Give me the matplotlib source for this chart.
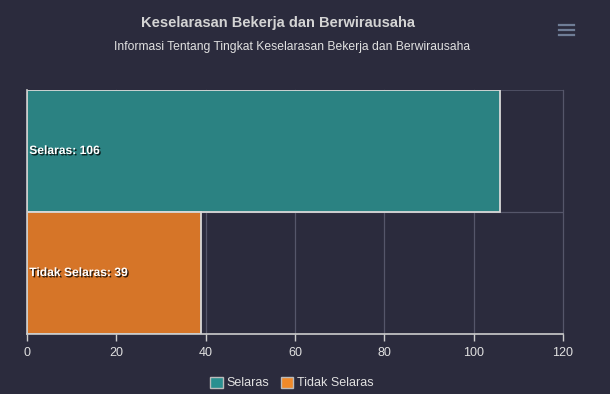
import matplotlib.pyplot as plt
import matplotlib.patheffects as pe
from matplotlib.patches import Patch
from matplotlib.lines import Line2D

# data
categories = ['Selaras', 'Tidak Selaras']
values = [106, 39]
bar_colors = ['#2b8282', '#d67528']
legend_colors = ['#2a9090', '#f08a2a']
x_ticks = [0, 20, 40, 60, 80, 100, 120]

bg = '#2b2b3d'
txt = '#e0e0e0'

fig = plt.figure(figsize=(6.1, 3.94), dpi=100, facecolor=bg)
ax = fig.add_axes([27 / 610, 1 - 334 / 394, (563 - 27) / 610, (334 - 90) / 394])
ax.set_facecolor(bg)

pos = list(range(len(categories)))
ax.barh(pos, values, height=1.0, color=bar_colors, edgecolor='#d8d8d8', linewidth=1.3, zorder=2)

ax.set_xlim(0, 120)
ax.set_ylim(1.5, -0.5)
ax.set_xticks(x_ticks)
ax.set_xticklabels([str(t) for t in x_ticks], color=txt, fontsize=9, family='Liberation Sans')
ax.set_yticks([])

# grid
for t in x_ticks[1:]:
    ax.axvline(t, color='#55566a', linewidth=0.9, zorder=1, clip_on=False)
ax.axhline(0.5, color='#55566a', linewidth=0.9, zorder=1)
ax.axhline(-0.5, color='#55566a', linewidth=1.2, zorder=1)

for s in ['top', 'right']:
    ax.spines[s].set_visible(False)
ax.spines['left'].set_color('#cccccc')
ax.spines['bottom'].set_color('#cccccc')
ax.spines['left'].set_linewidth(1.2)
ax.spines['bottom'].set_linewidth(1.2)
ax.tick_params(axis='x', colors='#cccccc', length=5, width=1, labelcolor=txt, pad=4)

# bar labels
for i, (c, v) in enumerate(zip(categories, values)):
    ax.text(0.5, i, f'{c}: {v}', color='white', fontsize=8.7, fontweight='bold',
            va='center', ha='left', family='Liberation Sans', zorder=3,
            path_effects=[pe.withSimplePatchShadow(offset=(1, -1), shadow_rgbFace='black', alpha=0.8)])

# titles
fig.text(278 / 610, 1 - 23 / 394, 'Keselarasan Bekerja dan Berwirausaha', ha='center', va='center',
         color='#d4d4d4', fontsize=10.5, fontweight='bold', family='Liberation Sans')
fig.text(292 / 610, 1 - 47 / 394, 'Informasi Tentang Tingkat Keselarasan Bekerja dan Berwirausaha',
         ha='center', va='center', color=txt, fontsize=8.7, family='Liberation Sans')

# menu icon
for yy in [25, 30, 35]:
    fig.add_artist(Line2D([559 / 610, 574 / 610], [1 - yy / 394, 1 - yy / 394],
                          color='#6f7d96', linewidth=1.6, transform=fig.transFigure))

# legend
handles = [Patch(facecolor=legend_colors[i], edgecolor='#bbbbbb', label=categories[i]) for i in range(2)]
leg = fig.legend(handles=handles, loc='center', bbox_to_anchor=(292 / 610, 1 - 383 / 394), ncol=2,
                 frameon=False, handlelength=1.0, handleheight=1.0,
                 handletextpad=0.3, columnspacing=0.9, prop={'family': 'Liberation Sans', 'size': 9})
for t in leg.get_texts():
    t.set_color(txt)

fig.savefig('out.png', dpi=100, facecolor=bg)
